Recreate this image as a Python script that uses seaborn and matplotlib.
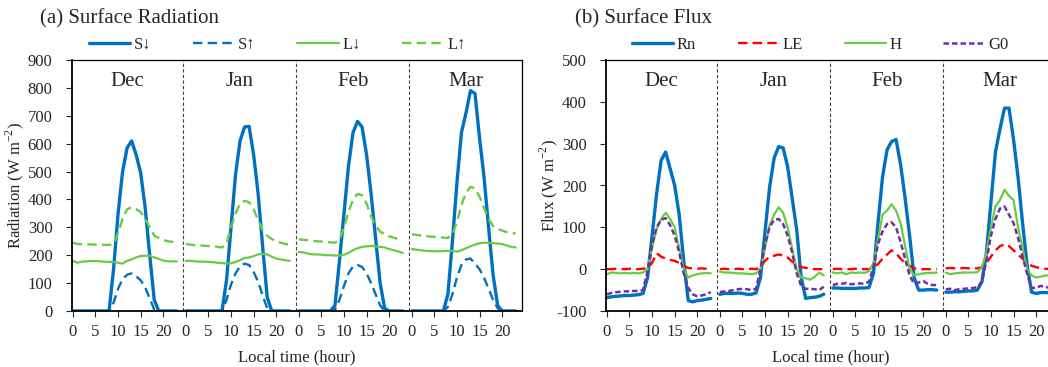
# diurnal cycles of surface radiation and surface fluxes, Dec - Mar

import numpy as np
import pandas as pd
import matplotlib
matplotlib.use("Agg")
import matplotlib.pyplot as plt
from matplotlib.lines import Line2D
import seaborn as sns

months = ["Dec", "Jan", "Feb", "Mar"]
hours = list(range(24))

# (a) surface radiation, W m-2, hourly values per month
sw_down = [
    [0, 0, 0, 0, 0, 0, 0, 0, 0, 150, 350, 500, 585, 610, 560, 495, 370, 200, 40, 0, 0, 0, 0, 0],
    [0, 0, 0, 0, 0, 0, 0, 0, 0, 110, 300, 490, 610, 660, 662, 560, 420, 230, 50, 0, 0, 0, 0, 0],
    [0, 0, 0, 0, 0, 0, 0, 0, 20, 180, 350, 520, 640, 680, 660, 560, 420, 260, 100, 10, 0, 0, 0, 0],
    [0, 0, 0, 0, 0, 0, 0, 0, 60, 250, 460, 640, 710, 790, 780, 620, 480, 300, 130, 20, 0, 0, 0, 0],
]
sw_up = [
    [0, 0, 0, 0, 0, 0, 0, 0, 0, 30, 80, 115, 130, 135, 125, 110, 85, 45, 5, 0, 0, 0, 0, 0],
    [0, 0, 0, 0, 0, 0, 0, 0, 0, 40, 95, 135, 160, 170, 165, 140, 105, 55, 10, 0, 0, 0, 0, 0],
    [0, 0, 0, 0, 0, 0, 0, 0, 5, 40, 90, 135, 160, 165, 158, 135, 100, 60, 20, 0, 0, 0, 0, 0],
    [0, 0, 0, 0, 0, 0, 0, 0, 15, 60, 120, 165, 185, 188, 170, 150, 120, 80, 40, 10, 0, 0, 0, 0],
]
lw_down = [
    [180, 173, 177, 178, 179, 179, 178, 177, 176, 176, 173, 170, 180, 185, 192, 197, 198, 198, 192, 187, 181, 178, 178, 178],
    [180, 180, 178, 177, 177, 176, 175, 173, 172, 170, 171, 176, 182, 190, 192, 197, 203, 205, 203, 195, 188, 185, 182, 180],
    [212, 210, 206, 203, 203, 202, 200, 200, 199, 199, 202, 208, 218, 225, 230, 232, 233, 232, 230, 228, 222, 218, 214, 208],
    [222, 220, 218, 216, 215, 214, 214, 215, 216, 215, 213, 218, 225, 232, 238, 243, 245, 244, 243, 242, 240, 235, 230, 228],
]
lw_up = [
    [245, 240, 240, 239, 239, 238, 238, 237, 237, 240, 280, 330, 365, 372, 365, 355, 330, 300, 270, 262, 255, 250, 248, 245],
    [240, 238, 236, 235, 234, 233, 232, 230, 228, 240, 300, 350, 385, 395, 390, 365, 325, 290, 270, 258, 250, 245, 240, 240],
    [257, 255, 254, 252, 250, 249, 248, 246, 245, 255, 300, 355, 400, 420, 415, 385, 340, 305, 285, 275, 268, 263, 258, 255],
    [275, 273, 271, 269, 267, 266, 265, 263, 262, 275, 320, 380, 425, 445, 440, 410, 370, 330, 305, 295, 288, 283, 280, 278],
]

# (b) surface fluxes, W m-2
rn = [
    [-68, -66, -65, -64, -63, -63, -62, -61, -58, -20, 80, 180, 260, 280, 240, 200, 130, 20, -75, -78, -75, -74, -72, -70],
    [-60, -58, -58, -58, -57, -58, -60, -60, -57, -20, 90, 195, 265, 293, 290, 245, 170, 95, -20, -70, -68, -67, -65, -60],
    [-45, -45, -46, -46, -46, -46, -45, -45, -44, -10, 110, 220, 285, 305, 310, 250, 170, 80, -20, -50, -50, -49, -49, -50],
    [-55, -55, -54, -54, -53, -52, -52, -50, -30, 40, 160, 280, 335, 385, 385, 310, 220, 110, 10, -55, -58, -56, -56, -56],
]
le = [
    [0, 0, 1, 0, 0, 1, 0, 0, 1, 3, 15, 38, 30, 25, 22, 20, 15, 8, 3, 2, 1, 2, 1, 0],
    [0, 1, 0, 0, 1, 0, 0, 1, 0, 5, 20, 30, 32, 35, 33, 28, 18, 10, 5, 3, 2, 0, 0, 0],
    [0, 1, 0, 0, 0, 1, 0, 0, 0, 5, 12, 25, 35, 45, 38, 25, 15, 8, 2, 0, 0, 0, 0, 0],
    [2, 3, 2, 2, 3, 2, 2, 2, 5, 15, 30, 45, 55, 60, 55, 45, 35, 25, 15, 8, 5, 2, 1, 0],
]
h_flux = [
    [-12, -8, -9, -10, -9, -10, -9, -10, -8, 0, 50, 95, 120, 135, 120, 100, 50, 0, -20, -15, -12, -10, -9, -10],
    [-6, -8, -8, -9, -10, -10, -11, -12, -10, 0, 50, 105, 130, 148, 135, 100, 50, 0, -20, -22, -25, -18, -8, -15],
    [-8, -10, -8, -12, -8, -9, -8, -9, -5, 15, 70, 130, 140, 155, 140, 110, 55, 0, -15, -12, -10, -9, -9, -8],
    [-8, -12, -10, -9, -8, -8, -8, -7, 5, 40, 100, 150, 165, 190, 175, 165, 100, 50, 0, -15, -20, -18, -15, -15],
]
g0 = [
    [-60, -57, -55, -54, -53, -53, -52, -52, -50, -5, 60, 100, 118, 122, 105, 80, 40, -10, -45, -60, -65, -63, -60, -55],
    [-55, -53, -52, -50, -48, -47, -48, -50, -47, 0, 60, 100, 118, 120, 108, 80, 40, -10, -40, -47, -47, -48, -50, -42],
    [-38, -35, -35, -33, -36, -35, -34, -35, -30, 5, 60, 90, 108, 112, 100, 65, 25, -15, -35, -32, -28, -35, -38, -38],
    [-48, -47, -50, -48, -47, -46, -45, -43, -30, 20, 80, 120, 145, 150, 130, 110, 75, 30, -10, -45, -45, -40, -42, -45],
]

BLOCK = 25  # hours reserved per month on the x axis

BLUE = "#0070C0"
GREEN = "#66CC44"
RED = "#FF0000"
PURPLE = "#7030A0"


def to_long(series):
    rows = []
    for m, vals in enumerate(series):
        for h, v in zip(hours, vals):
            rows.append({"month": months[m], "x": m * BLOCK + h, "value": v})
    return pd.DataFrame(rows)


def draw_panel(ax, specs, ylim, yticks, ylabel, legend_x):
    for series, color, lw, dashes, label in specs:
        df = to_long(series)
        kw = dict(linestyle=(0, dashes)) if dashes else dict(linestyle="-")
        sns.lineplot(data=df, x="x", y="value", units="month", estimator=None,
                     color=color, linewidth=lw, ax=ax, legend=False, **kw)

    for m in range(1, 4):
        ax.axvline(m * BLOCK - 0.6, color="#404040", lw=0.8, ls=(0, (3, 2)))
    for m, name in enumerate(months):
        ax.text(m * BLOCK + 12, 0.915, name, transform=ax.get_xaxis_transform(),
                ha="center", va="center", fontsize=15)

    ticks = [m * BLOCK + t for m in range(4) for t in (0, 5, 10, 15, 20)]
    ax.set_xticks(ticks)
    ax.set_xticklabels([str(t) for m in range(4) for t in (0, 5, 10, 15, 20)])
    ax.set_xlim(-0.2, 4 * BLOCK - 0.6)
    ax.set_ylim(*ylim)
    ax.set_yticks(yticks)
    ax.tick_params(axis="both", labelsize=12, direction="out", length=4, width=0.8)
    ax.tick_params(axis="x", pad=5)
    ax.tick_params(axis="y", pad=10)
    ax.set_xlabel("Local time (hour)", fontsize=12, labelpad=7)
    ax.set_ylabel(ylabel, fontsize=12)
    ax.yaxis.set_label_coords(-0.102, 0.5)
    for s in ax.spines.values():
        s.set_color("black")
        s.set_linewidth(0.9)
    ax.spines["left"].set_linewidth(1.3)
    ax.spines["bottom"].set_linewidth(1.3)

    handles = []
    for series, color, lw, dashes, label in specs:
        ls = (0, dashes) if dashes else "-"
        handles.append(Line2D([], [], color=color, lw=lw, linestyle=ls, label=label))
    ax.legend(handles=handles, loc="center", bbox_to_anchor=(legend_x, 1 + 15 / 251), ncol=4,
              frameon=False, fontsize=12, handlelength=2.5, handletextpad=0.2,
              columnspacing=2.5, borderaxespad=0.0, borderpad=0.0)


sns.set_style("ticks")
plt.rcParams["font.family"] = ["Liberation Serif", "DejaVu Serif"]
plt.rcParams["axes.unicode_minus"] = False

fig = plt.figure(figsize=(10.48, 3.67), dpi=100)
ax1 = fig.add_axes([72 / 1048, 56 / 367, 450 / 1048, 251 / 367])
ax2 = fig.add_axes([606 / 1048, 56 / 367, 450 / 1048, 251 / 367])

rad_specs = [
    (sw_down, BLUE, 2.4, None, "S\u2193"),
    (sw_up, BLUE, 1.7, (4, 2.2), "S\u2191"),
    (lw_down, GREEN, 1.6, None, "L\u2193"),
    (lw_up, GREEN, 1.7, (4, 2.2), "L\u2191"),
]
flux_specs = [
    (rn, BLUE, 2.4, None, "Rn"),
    (le, RED, 1.7, (4, 2.2), "LE"),
    (h_flux, GREEN, 1.6, None, "H"),
    (g0, PURPLE, 1.8, (2.2, 1.2), "G0"),
]

draw_panel(ax1, rad_specs, (0, 900), range(0, 901, 100),
           "Radiation (W m$^{\\mathregular{-2}}$)", 0.456)
draw_panel(ax2, flux_specs, (-100, 500), range(-100, 501, 100),
           "Flux (W m$^{\\mathregular{-2}}$)", 0.476)

fig.text(40 / 1048, 1 - 19 / 367, "(a) Surface Radiation", fontsize=15, va="center")
fig.text(575 / 1048, 1 - 19 / 367, "(b) Surface Flux", fontsize=15, va="center")

fig.savefig("out.png", dpi=100)
